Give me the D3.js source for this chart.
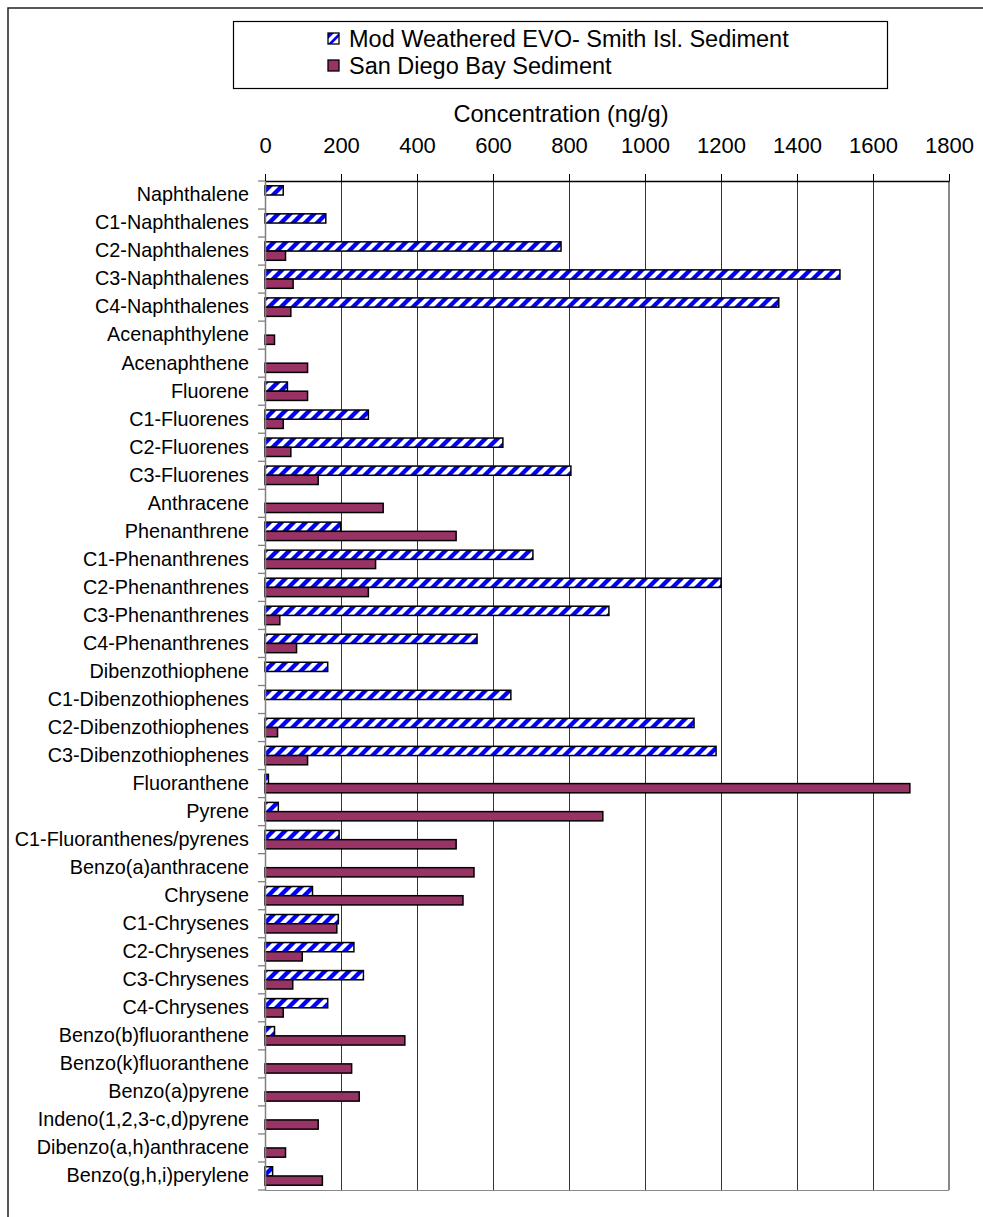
<!DOCTYPE html>
<html>
<head>
<meta charset="utf-8">
<script src="https://cdn.jsdelivr.net/npm/d3@7/dist/d3.min.js"></script>
<style>
  html, body { margin: 0; padding: 0; background: #fff; }
  svg { display: block; font-family: "Liberation Sans", Arial, sans-serif; }
</style>
</head>
<body>
<svg id="chart" width="983" height="1217"></svg>
<script>
// PAH concentrations (ng/g) by compound
const categories = [
  "Naphthalene", "C1-Naphthalenes", "C2-Naphthalenes", "C3-Naphthalenes", "C4-Naphthalenes",
  "Acenaphthylene", "Acenaphthene", "Fluorene", "C1-Fluorenes", "C2-Fluorenes", "C3-Fluorenes",
  "Anthracene", "Phenanthrene", "C1-Phenanthrenes", "C2-Phenanthrenes", "C3-Phenanthrenes",
  "C4-Phenanthrenes", "Dibenzothiophene", "C1-Dibenzothiophenes", "C2-Dibenzothiophenes",
  "C3-Dibenzothiophenes", "Fluoranthene", "Pyrene", "C1-Fluoranthenes/pyrenes",
  "Benzo(a)anthracene", "Chrysene", "C1-Chrysenes", "C2-Chrysenes", "C3-Chrysenes",
  "C4-Chrysenes", "Benzo(b)fluoranthene", "Benzo(k)fluoranthene", "Benzo(a)pyrene",
  "Indeno(1,2,3-c,d)pyrene", "Dibenzo(a,h)anthracene", "Benzo(g,h,i)perylene"
];

const seriesNames = ["Mod Weathered EVO- Smith Isl. Sediment", "San Diego Bay Sediment"];

const evoValues = [
  48, 160, 779, 1513, 1352,
  null, null, 59, 272, 626, 805,
  null, 199, 705, 1200, 905,
  558, 165, 647, 1129,
  1187, 9, 35, 195,
  null, 125, 193, 234, 259,
  165, 25, null, null,
  null, null, 20
];

const sdbValues = [
  null, null, 54, 74, 68,
  25, 112, 112, 48, 68, 140,
  311, 503, 291, 272, 39,
  83, null, null, 33,
  112, 1697, 889, 503,
  550, 521, 189, 98, 73,
  48, 368, 228, 248,
  140, 54, 151
];

const xTicks = [0, 200, 400, 600, 800, 1000, 1200, 1400, 1600, 1800];

const svg = d3.select("#chart");

// Hatched fill for the first series
const defs = svg.append("defs");
const P = 12;
const pat = defs.append("pattern")
  .attr("id", "hatch")
  .attr("patternUnits", "userSpaceOnUse")
  .attr("width", P).attr("height", P);
pat.append("rect").attr("width", P).attr("height", P).attr("fill", "#fff");
pat.append("path")
  .attr("d", `M${-P / 2},${P / 2} L${P / 2},${-P / 2} M0,${P} L${P},0 M${P / 2},${P * 1.5} L${P * 1.5},${P / 2}`)
  .attr("stroke", "#0000ff")
  .attr("stroke-width", P * 0.36)
  .attr("fill", "none");

// Outer chart frame
svg.append("path")
  .attr("d", "M8,1217 L8,8 L983,8")
  .attr("fill", "none")
  .attr("stroke", "#222")
  .attr("stroke-width", 1.5);

// Scales
const x = d3.scaleLinear().domain([0, 1800]).range([265, 949]);
const y = d3.scaleBand().domain(categories).range([181, 1190]);
const ySub = d3.scaleBand().domain(seriesNames).range([0, y.bandwidth()]).paddingOuter(0.52);

// Vertical gridlines
svg.append("g")
  .selectAll("line")
  .data(xTicks.filter(t => t > 0 && t < 1800))
  .join("line")
  .attr("x1", d => Math.round(x(d)) + 0.5)
  .attr("x2", d => Math.round(x(d)) + 0.5)
  .attr("y1", 181).attr("y2", 1190)
  .attr("stroke", "#333")
  .attr("stroke-width", 1);

// Plot area right and bottom borders
svg.append("line")
  .attr("x1", x(1800)).attr("x2", x(1800))
  .attr("y1", 181).attr("y2", 1190)
  .attr("stroke", "#888").attr("stroke-width", 2);
svg.append("line")
  .attr("x1", x(0)).attr("x2", x(1800))
  .attr("y1", 1190.5).attr("y2", 1190.5)
  .attr("stroke", "#888").attr("stroke-width", 1);

// Bars
const rows = categories.map((c, i) => ({ c, evo: evoValues[i], sdb: sdbValues[i] }));
const bars = svg.append("g");
bars.selectAll("rect.evo")
  .data(rows.filter(d => d.evo != null))
  .join("rect")
  .attr("class", "evo")
  .attr("x", x(0))
  .attr("y", d => y(d.c) + ySub(seriesNames[0]))
  .attr("width", d => x(d.evo) - x(0))
  .attr("height", ySub.bandwidth())
  .attr("fill", "url(#hatch)")
  .attr("stroke", "#000")
  .attr("stroke-width", 1.5);
bars.selectAll("rect.sdb")
  .data(rows.filter(d => d.sdb != null))
  .join("rect")
  .attr("class", "sdb")
  .attr("x", x(0))
  .attr("y", d => y(d.c) + ySub(seriesNames[1]))
  .attr("width", d => x(d.sdb) - x(0))
  .attr("height", ySub.bandwidth())
  .attr("fill", "#993366")
  .attr("stroke", "#000")
  .attr("stroke-width", 1.5);

// Top value axis
const xAxis = svg.append("g")
  .attr("transform", "translate(0,181)")
  .call(d3.axisTop(x).tickValues(xTicks).tickFormat(d3.format("d"))
    .tickSize(7).tickSizeOuter(0).tickPadding(21));
xAxis.select(".domain").attr("stroke", "#000").attr("stroke-width", 1.3);
xAxis.selectAll(".tick line").attr("stroke", "#000");
xAxis.selectAll(".tick text")
  .attr("font-size", 22)
  .attr("font-family", "Liberation Sans, Arial, sans-serif")
  .attr("fill", "#000");

// Axis title
svg.append("text")
  .attr("x", 561).attr("y", 122)
  .attr("text-anchor", "middle")
  .attr("font-size", 23.6)
  .attr("fill", "#000")
  .text("Concentration (ng/g)");

// Left category axis
const yAxis = svg.append("g")
  .attr("transform", `translate(${x(0)},0)`)
  .call(d3.axisLeft(y).tickSize(0).tickPadding(16));
yAxis.select(".domain").attr("stroke", "#808080").attr("stroke-width", 1.5);
yAxis.selectAll(".tick text")
  .attr("font-size", 19.8)
  .attr("font-family", "Liberation Sans, Arial, sans-serif")
  .attr("fill", "#000");

// Category boundary ticks
const bounds = categories.map(c => y(c)).concat([y.range()[1]]);
svg.append("g")
  .selectAll("line")
  .data(bounds)
  .join("line")
  .attr("x1", x(0) - 7).attr("x2", x(0))
  .attr("y1", d => d).attr("y2", d => d)
  .attr("stroke", "#808080")
  .attr("stroke-width", 1.3);

// Legend
const legend = svg.append("g");
legend.append("rect")
  .attr("x", 233.5).attr("y", 21.5)
  .attr("width", 654).attr("height", 67)
  .attr("fill", "#fff")
  .attr("stroke", "#000")
  .attr("stroke-width", 1.2);

const legendRows = [
  { name: seriesNames[0], cy: 38.5 },
  { name: seriesNames[1], cy: 65.5 }
];
// Swatch for the hatched series: split diagonally
const s = 11;
const sw0 = legend.append("g").attr("transform", `translate(328,${legendRows[0].cy - s / 2})`);
sw0.append("rect").attr("width", s).attr("height", s).attr("fill", "#fff");
sw0.append("path").attr("d", `M0,${s} L${s},0 L${s},${s * 0.35} L${s * 0.35},${s} Z`).attr("fill", "#0000ff");
sw0.append("path").attr("d", `M0,${s * 0.55} L${s * 0.55},0 L0,0 Z`).attr("fill", "#0000ff");
sw0.append("rect").attr("width", s).attr("height", s).attr("fill", "none").attr("stroke", "#000").attr("stroke-width", 1.3);

legend.append("rect")
  .attr("x", 328).attr("y", legendRows[1].cy - s / 2)
  .attr("width", s).attr("height", s)
  .attr("fill", "#993366")
  .attr("stroke", "#000").attr("stroke-width", 1.3);

legend.selectAll("text")
  .data(legendRows)
  .join("text")
  .attr("x", 349)
  .attr("y", d => d.cy)
  .attr("dy", "0.36em")
  .attr("font-size", 23.5)
  .attr("fill", "#000")
  .text(d => d.name);
</script>
</body>
</html>
